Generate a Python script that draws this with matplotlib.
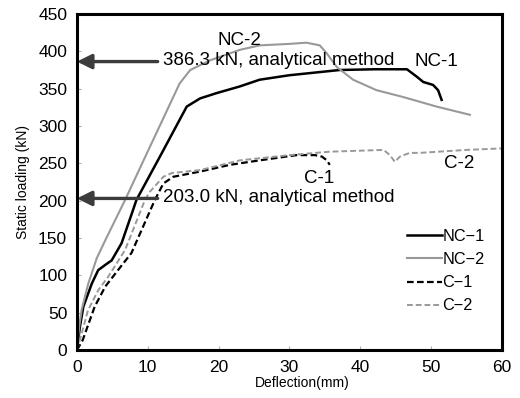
import numpy as np
import matplotlib.pyplot as plt

plt.rcParams['font.family'] = ['Liberation Sans', 'DejaVu Sans']

# load-deflection curves
nc1_x = [0, 0.4, 0.9, 2.1, 3.0, 4.0, 4.9, 6.3, 7.9, 8.4, 12.0, 15.5, 17.4, 19.7, 23.0, 25.8, 30.0, 37.1, 42.0, 46.6, 48.0, 48.9, 50.3, 51.0, 51.5]
nc1_y = [0, 30, 58, 89, 107, 114, 120, 143, 187, 201, 264, 326, 337, 344, 353, 362, 368, 375, 376, 376, 366, 359, 355, 348, 335]

nc2_x = [0, 0.3, 0.66, 1.6, 2.8, 4.0, 5.4, 6.8, 10.0, 14.5, 16.0, 18.8, 23.0, 25.8, 30.0, 32.4, 34.3, 35.3, 36.7, 39.0, 42.3, 46.0, 50.8, 55.5]
nc2_y = [0, 30, 54, 89, 123, 147, 174, 201, 266, 357, 375, 388, 402, 408, 410, 411.6, 408, 397, 379, 362, 348, 339, 326, 315]

c1_x = [0, 0.8, 2.5, 4.0, 5.8, 7.7, 11.0, 12.2, 13.6, 17.4, 21.6, 25.8, 31.0, 33.6, 34.6, 35.3, 35.7]
c1_y = [0, 13, 58, 85, 107, 130, 201, 223, 232, 239, 248, 254, 261, 261, 259, 254, 248]

c2_x = [0, 0.66, 1.55, 3.0, 4.4, 6.8, 9.6, 10.3, 12.2, 13.4, 17.4, 23.0, 30.0, 35.7, 43.3, 44.2, 44.9, 45.6, 47.0, 48.4, 55.0, 60.0]
c2_y = [0, 22, 53, 80, 98, 134, 201, 212, 232, 237, 241, 254, 261, 265.6, 268, 261, 252, 259, 264, 264, 268, 270]

analytic = [386.3, 203.0]
analytic_txt = ["386.3 kN, analytical method", "203.0 kN, analytical method"]


def plotCurves():
    fig = plt.figure(figsize=(5.2, 3.98), dpi=100)
    ax = fig.add_axes([0.148, 0.1206, 0.817, 0.8442])

    ax.plot(nc1_x, nc1_y, color='black', lw=1.8, label='NC\u22121')
    ax.plot(nc2_x, nc2_y, color='#999999', lw=1.5, label='NC\u22122')
    ax.plot(c1_x, c1_y, color='black', lw=1.6, ls=(0, (3, 1.5)), label='C\u22121')
    ax.plot(c2_x, c2_y, color='#999999', lw=1.4, ls=(0, (3, 1.5)), label='C\u22122')

    for val, txt in zip(analytic, analytic_txt):
        ax.annotate('', xy=(0, val), xytext=(11.4, val),
                    arrowprops=dict(arrowstyle='-|>', color='#3c3c3c', lw=2.4,
                                    mutation_scale=22, shrinkA=0, shrinkB=0))
        ax.text(12.1, val + 1, txt, fontsize=13.5, va='center', ha='left')

    ax.text(23.0, 415, 'NC-2', fontsize=13.5, ha='center', va='center')
    ax.text(50.8, 386, 'NC-1', fontsize=13.5, ha='center', va='center')
    ax.text(34.2, 230, 'C-1', fontsize=13.5, ha='center', va='center')
    ax.text(54.0, 250, 'C-2', fontsize=13.5, ha='center', va='center')

    ax.set_xlim(0, 60)
    ax.set_ylim(0, 450)
    ax.set_xticks(np.arange(0, 61, 10))
    ax.set_yticks(np.arange(0, 451, 50))
    ax.tick_params(direction='in', length=3, labelsize=12.5, color='#aaaaaa', pad=7)
    for s in ax.spines.values():
        s.set_linewidth(2.2)
    ax.set_xlabel('Deflection(mm)', fontsize=10, labelpad=1, x=0.53)
    ax.set_ylabel('Static loading (kN)', fontsize=10, labelpad=6)

    ax.legend(loc='upper left', bbox_to_anchor=(0.776, 0.36), frameon=False,
              fontsize=11.7, handlelength=2.15, handletextpad=0.05,
              labelspacing=0.5, borderpad=0, borderaxespad=0)

    fig.savefig('out.png', dpi=100)


if __name__ == '__main__':
    plotCurves()
